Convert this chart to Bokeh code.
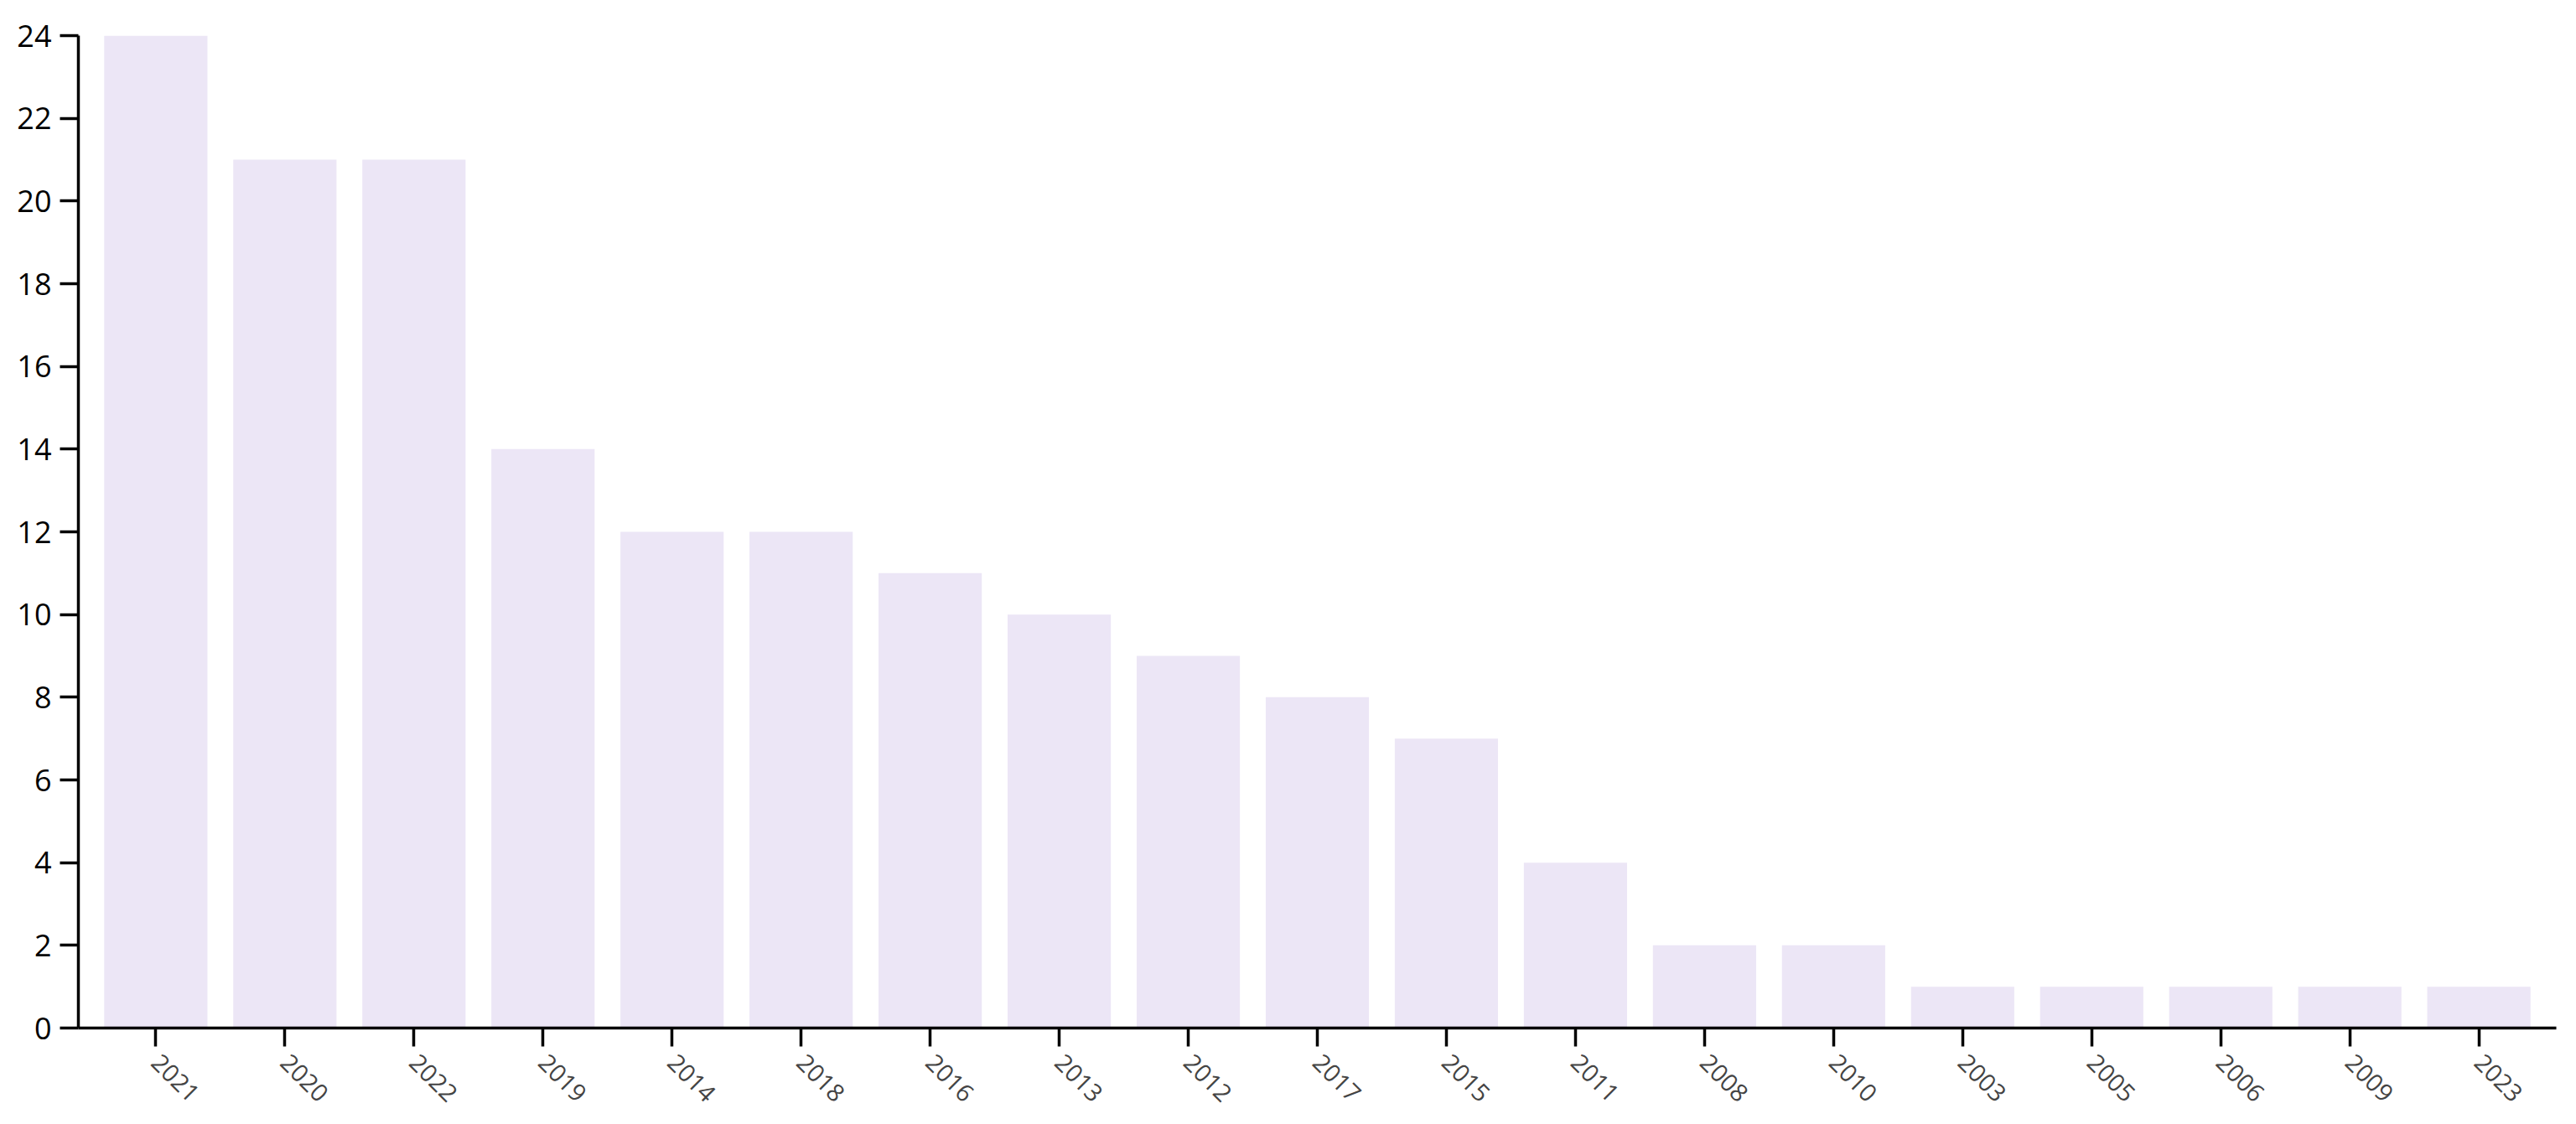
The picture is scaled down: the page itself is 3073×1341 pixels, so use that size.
import math
from bokeh.plotting import figure
from bokeh.models import FactorRange, Range1d, FixedTicker, ColumnDataSource
from bokeh.embed import file_html
from bokeh.resources import INLINE

years = ["2021", "2020", "2022", "2019", "2014", "2018", "2016", "2013", "2012",
         "2017", "2015", "2011", "2008", "2010", "2003", "2005", "2006", "2009", "2023"]
counts = [24, 21, 21, 14, 12, 12, 11, 10, 9, 8, 7, 4, 2, 2, 1, 1, 1, 1, 1]
y_ticks = list(range(0, 25, 2))

FONT = "Open Sans"

src = ColumnDataSource(data=dict(year=years, count=counts))

p = figure(
    width=3052, height=1336,
    x_range=FactorRange(factors=years, range_padding=0.1, range_padding_units="absolute"),
    y_range=Range1d(0, 24),
    output_backend="svg", toolbar_location=None,
    min_border_left=93, min_border_top=42, min_border_right=3, min_border_bottom=110,
)
p.outline_line_color = None
p.xgrid.visible = False
p.ygrid.visible = False
p.background_fill_color = "white"

p.vbar(x="year", top="count", width=0.8, source=src, fill_color="#ece6f6", line_color=None)

for ax in (p.xaxis[0], p.yaxis[0]):
    ax.axis_line_width = 3.5
    ax.axis_line_color = "black"
    ax.major_tick_line_width = 3.5
    ax.major_tick_line_color = "black"
    ax.major_tick_out = 22
    ax.major_tick_in = 0
    ax.minor_tick_line_color = None
    ax.major_label_text_font = FONT

p.yaxis.ticker = FixedTicker(ticks=y_ticks)
p.yaxis.major_label_text_color = "black"
p.yaxis.major_label_text_font_size = "36px"
p.yaxis.major_label_standoff = 10

p.xaxis.major_label_orientation = -math.pi / 4
p.xaxis.major_label_text_color = "#444444"
p.xaxis.major_label_text_font_size = "29px"
p.xaxis.major_label_standoff = 14

open("out.html", "w").write(file_html(p, INLINE))
